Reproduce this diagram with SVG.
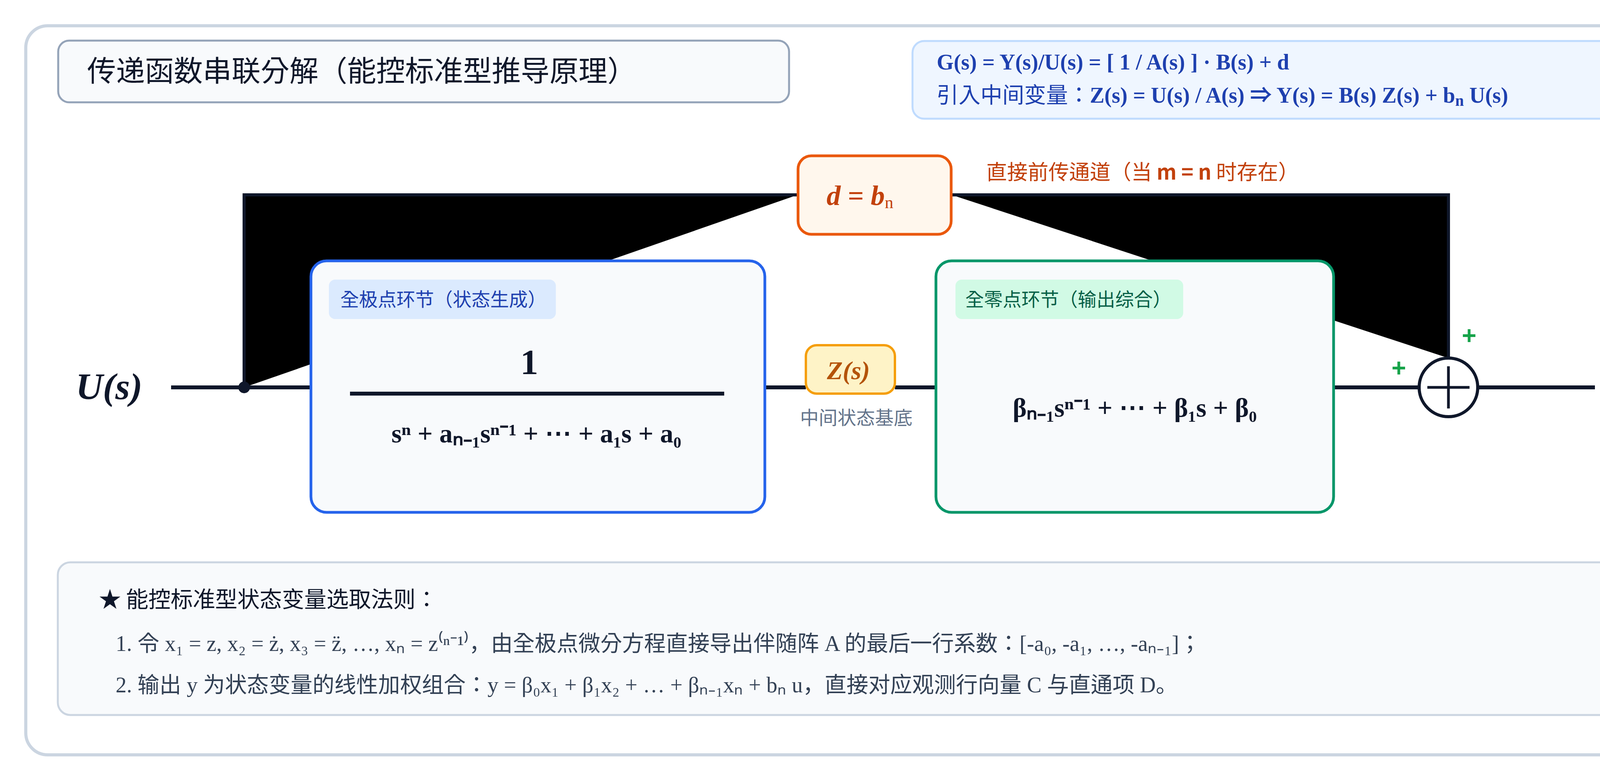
<svg xmlns="http://www.w3.org/2000/svg" width="4584" height="2000" viewBox="0 0 4584 2000">
<style>
.cjk{font-family:'Noto Sans CJK KR','Noto Sans CJK SC','Liberation Sans',sans-serif}
.ser{font-family:'Liberation Serif','Noto Sans CJK KR','Noto Sans CJK SC',serif}
.dots{font-family:'DejaVu Serif','Liberation Serif',serif}
.line{stroke:#0F172A;stroke-width:10;fill:none}
.ff{stroke:#0F172A;stroke-width:8;fill:#000000;stroke-linejoin:miter}
.blk{fill:#F8FAFC;stroke-width:7}
.pm{font-family:'Liberation Sans','Noto Sans',sans-serif;font-size:64px;font-weight:bold;fill:#16A34A}
</style>
<rect x="0" y="0" width="4584" height="2000" fill="#FFFFFF"/>
<g id="container">
<rect x="66" y="66" width="4454" height="1867" rx="56" fill="#FFFFFF" stroke="#CBD5E1" stroke-width="8"/>
</g>
<g id="title">
<rect x="149" y="104" width="1871" height="158" rx="28" fill="#F8FAFC" stroke="#94A3B8" stroke-width="5"/>
<text class="cjk" x="223" y="208" font-size="74" fill="#0F172A">传递函数串联分解（能控标准型推导原理）</text>
</g>
<g id="formula">
<rect x="2336" y="105" width="2036" height="199" rx="30" fill="#EFF6FF" stroke="#BFDBFE" stroke-width="5"/>
<text class="ser" x="2398" y="178" font-size="56" font-weight="bold" fill="#1E40AF">G(s) = Y(s)/U(s) = [ 1 / A(s) ] · B(s) + d</text>
<text class="ser" x="2398" y="263" font-size="56" font-weight="bold" fill="#1E40AF"><tspan font-weight="normal">引入中间变量：</tspan>Z(s) = U(s) / A(s) ⇒ Y(s) = B(s) Z(s) + b<tspan font-size="40" dy="8">n</tspan><tspan dy="-8"> U(s)</tspan></text>
</g>
<g id="connectors">
<path class="ff" d="M 625 992 V 499 H 2042"/>
<path class="ff" d="M 2436 499 H 3708 V 917"/>
<line class="line" x1="438" y1="992" x2="796" y2="992"/>
<line class="line" x1="1958" y1="992" x2="2063" y2="992"/>
<line class="line" x1="2291" y1="992" x2="2396" y2="992"/>
<line class="line" x1="3414" y1="992" x2="3633" y2="992"/>
<line class="line" x1="3783" y1="992" x2="4083" y2="992"/>
<circle cx="625" cy="992" r="15" fill="#0F172A"/>
</g>
<g id="label-U">
<text class="ser" x="194" y="1022" font-size="96" font-weight="bold" font-style="italic" fill="#0F172A">U(s)</text>
</g>
<g id="label-Y">
<text class="ser" x="4130" y="1024" font-size="96" font-weight="bold" font-style="italic" fill="#0F172A">Y(s)</text>
</g>
<g id="direct-feed">
<rect x="2043" y="399" width="392" height="201" rx="34" fill="#FFF7ED" stroke="#EA580C" stroke-width="7"/>
<text class="ser" x="2116" y="525" font-size="72" font-weight="bold" font-style="italic" fill="#C2410C">d = b<tspan font-size="44" font-weight="normal" font-style="normal" dy="8">n</tspan></text>
<text class="cjk" x="2525" y="460" font-size="53" fill="#C2410C">直接前传通道（当 <tspan font-weight="bold">m = n</tspan> 时存在）</text>
</g>
<g id="all-pole">
<rect class="blk" x="796" y="668" width="1162" height="644" rx="40" stroke="#2563EB"/>
<rect x="842" y="716" width="581" height="101" rx="16" fill="#DBEAFE"/>
<text class="cjk" x="871" y="784" font-size="48" fill="#1E40AF">全极点环节（状态生成）</text>
<text class="ser" x="1355" y="958" font-size="92" font-weight="bold" text-anchor="middle" fill="#0F172A">1</text>
<line x1="896" y1="1008" x2="1854" y2="1008" stroke="#0F172A" stroke-width="10"/>
<text class="ser" x="1373" y="1133" font-size="68" font-weight="bold" text-anchor="middle" fill="#0F172A">sⁿ + aₙ₋₁sⁿ⁻¹ + <tspan class="dots">⋯</tspan> + a₁s + a₀</text>
</g>
<g id="z-state">
<rect x="2063" y="884" width="228" height="124" rx="28" fill="#FEF3C7" stroke="#F59E0B" stroke-width="6"/>
<text class="ser" x="2172" y="971" font-size="66" font-weight="bold" font-style="italic" text-anchor="middle" fill="#B45309">Z(s)</text>
<text class="cjk" x="2192" y="1087" font-size="48" text-anchor="middle" fill="#64748B">中间状态基底</text>
</g>
<g id="all-zero">
<rect class="blk" x="2396" y="668" width="1018" height="644" rx="40" stroke="#059669"/>
<rect x="2446" y="716" width="583" height="101" rx="16" fill="#D1FAE5"/>
<text class="cjk" x="2471" y="784" font-size="48" fill="#065F46">全零点环节（输出综合）</text>
<text class="ser" x="2905" y="1067" font-size="68" font-weight="bold" text-anchor="middle" fill="#0F172A">βₙ₋₁sⁿ⁻¹ + <tspan class="dots">⋯</tspan> + β₁s + β₀</text>
</g>
<g id="sum">
<circle cx="3708" cy="992" r="75" fill="#FFFFFF" stroke="#0F172A" stroke-width="8"/>
<path d="M 3654 992 H 3762 M 3708 938 V 1046" stroke="#0F172A" stroke-width="7" fill="none"/>
<text class="pm" x="3761" y="881" text-anchor="middle">+</text>
<text class="pm" x="3581" y="964" text-anchor="middle">+</text>
</g>
<g id="notes">
<rect x="148" y="1440" width="4225" height="391" rx="32" fill="#F8FAFC" stroke="#CBD5E1" stroke-width="5"/>
<text class="cjk" x="253" y="1555" font-size="57" fill="#0F172A">★ 能控标准型状态变量选取法则：</text>
<text class="ser" x="296" y="1667" font-size="56" fill="#334155">1. 令 x₁ = z, x₂ = ż, x₃ = z̈, …, xₙ = z⁽ⁿ⁻¹⁾，由全极点微分方程直接导出伴随阵 A 的最后一行系数：[-a₀, -a₁, …, -aₙ₋₁]；</text>
<text class="ser" x="296" y="1773" font-size="56" fill="#334155">2. 输出 y 为状态变量的线性加权组合：y = β₀x₁ + β₁x₂ + … + βₙ₋₁xₙ + bₙ u，直接对应观测行向量 C 与直通项 D。</text>
</g>
</svg>
